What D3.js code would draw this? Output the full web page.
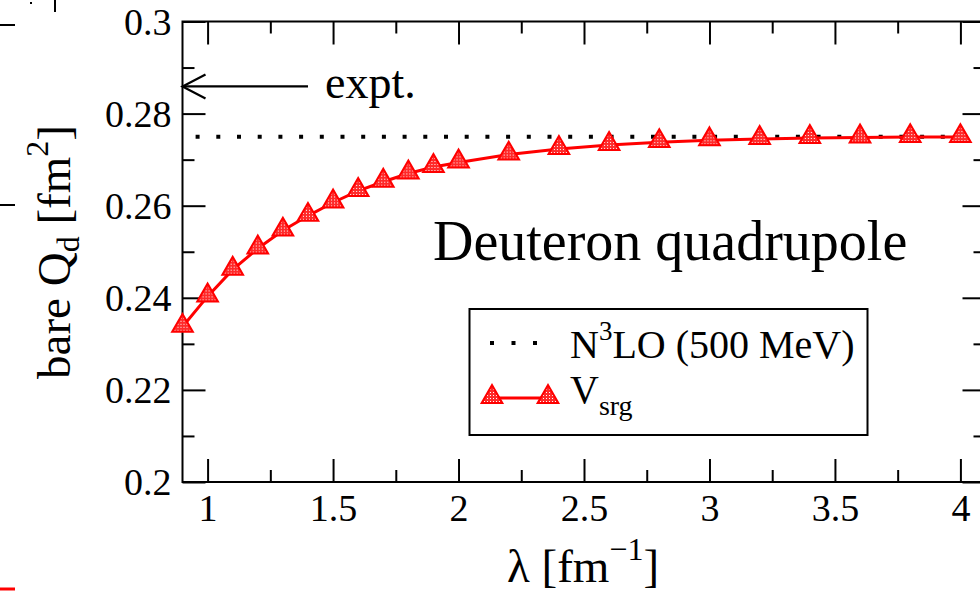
<!DOCTYPE html>
<html>
<head>
<meta charset="utf-8">
<script src="https://cdn.jsdelivr.net/npm/d3@7"></script>
<style>
  html, body { margin: 0; padding: 0; background: #fff; }
  svg { display: block; font-family: "Liberation Serif", "DejaVu Serif", serif; }
</style>
</head>
<body>
<div id="chart"></div>
<script>
// ---- data ----
const lambda = [0.9, 1.0, 1.1, 1.2, 1.3, 1.4, 1.5, 1.6, 1.7, 1.8, 1.9, 2.0,
                2.2, 2.4, 2.6, 2.8, 3.0, 3.2, 3.4, 3.6, 3.8, 4.0];
const qdSrg = [0.2337, 0.2403, 0.2461, 0.2507, 0.2546, 0.2578, 0.2607, 0.2632,
               0.2652, 0.2670, 0.2684, 0.2694, 0.2711, 0.2723, 0.2732, 0.2738,
               0.2742, 0.2745, 0.2747, 0.2748, 0.2749, 0.2749];
const qdN3lo = 0.275;
const qdExpt = 0.2859;

const xMajor = [1, 1.5, 2, 2.5, 3, 3.5, 4];
const xMinor = [1.25, 1.75, 2.25, 2.75, 3.25, 3.75];
const yMajor = [0.2, 0.22, 0.24, 0.26, 0.28, 0.3];
const yMinor = [0.21, 0.23, 0.25, 0.27, 0.29];

const width = 980, height = 593;
const svg = d3.select("#chart").append("svg")
  .attr("width", width).attr("height", height);

// dithered red fill used inside the triangles
const defs = svg.append("defs");
const pat = defs.append("pattern").attr("id", "hatch")
  .attr("patternUnits", "userSpaceOnUse").attr("width", 3).attr("height", 3);
pat.append("rect").attr("width", 3).attr("height", 3).attr("fill", "#ff2a2a");
pat.append("rect").attr("x", 1).attr("y", 1).attr("width", 1).attr("height", 1).attr("fill", "#ffffff");

// scales
const x = d3.scaleLinear().domain([0.9, 4.1]).range([182.5, 985.5]);
const y = d3.scaleLinear().domain([0.2, 0.3]).range([482, 21.5]);
const [x0, x1] = x.range();
const [yb, yt] = y.range();

// bits of the neighbouring panels cut by the crop
const frag = svg.append("g").attr("stroke", "#000").attr("stroke-width", 2);
frag.append("line").attr("x1", 0).attr("x2", 15).attr("y1", 25).attr("y2", 25);
frag.append("line").attr("x1", 0).attr("x2", 15).attr("y1", 205).attr("y2", 205);
frag.append("line").attr("x1", 55).attr("x2", 55).attr("y1", 0).attr("y2", 12);
frag.append("rect").attr("x", 30).attr("y", 2).attr("width", 2).attr("height", 2).attr("stroke", "none").attr("fill", "#000");
svg.append("line").attr("x1", 0).attr("x2", 15).attr("y1", 589).attr("y2", 589)
  .attr("stroke", "#ff0000").attr("stroke-width", 3);

// axes (ticks pointing inward on all four sides)
function styleAxis(g) {
  g.select(".domain").remove();
  g.selectAll(".tick line").attr("stroke", "#000").attr("stroke-width", 2);
  g.selectAll(".tick text").attr("fill", "#000").attr("font-size", 38)
    .attr("font-family", "Liberation Serif, serif");
}
const fmtY = d => d === 0.2 ? "0.2" : d === 0.3 ? "0.3" : d3.format(".2f")(d);

svg.append("g").attr("transform", `translate(${x0},0)`)
  .call(d3.axisLeft(y).tickValues(yMajor).tickFormat(fmtY).tickSizeInner(-23).tickSizeOuter(0).tickPadding(11))
  .call(styleAxis)
  .call(g => g.selectAll(".tick text").attr("dy", "0.34em"));
svg.append("g").attr("transform", `translate(${x0},0)`)
  .call(d3.axisLeft(y).tickValues(yMinor).tickFormat("").tickSizeInner(-12).tickSizeOuter(0))
  .call(styleAxis);
svg.append("g").attr("transform", `translate(${x1},0)`)
  .call(d3.axisRight(y).tickValues(yMajor).tickFormat("").tickSizeInner(-23).tickSizeOuter(0))
  .call(styleAxis);
svg.append("g").attr("transform", `translate(${x1},0)`)
  .call(d3.axisRight(y).tickValues(yMinor).tickFormat("").tickSizeInner(-12).tickSizeOuter(0))
  .call(styleAxis);

svg.append("g").attr("transform", `translate(0,${yb})`)
  .call(d3.axisBottom(x).tickValues(xMajor).tickFormat(d3.format("")).tickSizeInner(-23).tickSizeOuter(0).tickPadding(12))
  .call(styleAxis)
  .call(g => g.selectAll(".tick text").attr("dy", "0.71em"));
svg.append("g").attr("transform", `translate(0,${yb})`)
  .call(d3.axisBottom(x).tickValues(xMinor).tickFormat("").tickSizeInner(-12).tickSizeOuter(0))
  .call(styleAxis);
svg.append("g").attr("transform", `translate(0,${yt})`)
  .call(d3.axisTop(x).tickValues(xMajor).tickFormat("").tickSizeInner(-23).tickSizeOuter(0))
  .call(styleAxis);
svg.append("g").attr("transform", `translate(0,${yt})`)
  .call(d3.axisTop(x).tickValues(xMinor).tickFormat("").tickSizeInner(-12).tickSizeOuter(0))
  .call(styleAxis);

// frame
svg.append("rect").attr("x", x0).attr("y", yt)
  .attr("width", x1 - x0).attr("height", yb - yt)
  .attr("fill", "none").attr("stroke", "#000").attr("stroke-width", 2);

// N3LO dotted reference line
svg.append("line")
  .attr("x1", x(0.9)).attr("x2", x(4.1))
  .attr("y1", y(qdN3lo)).attr("y2", y(qdN3lo))
  .attr("stroke", "#000").attr("stroke-width", 4)
  .attr("stroke-dasharray", "4 16.7").attr("stroke-dashoffset", 7.6);

// Vsrg curve
const pts = lambda.map((l, i) => [l, qdSrg[i]]);
svg.append("path").datum(pts)
  .attr("fill", "none").attr("stroke", "#ff0000").attr("stroke-width", 3)
  .attr("d", d3.line().x(d => x(d[0])).y(d => y(d[1])));

const tri = d3.symbol(d3.symbolTriangle, 185);
svg.append("g").selectAll("path").data(pts).join("path")
  .attr("transform", d => `translate(${x(d[0])},${y(d[1]) - 1})`)
  .attr("d", tri)
  .attr("fill", "url(#hatch)").attr("stroke", "#ff0000").attr("stroke-width", 2);

// experimental value arrow
const ya = y(qdExpt);
const arrow = svg.append("g").attr("stroke", "#000").attr("stroke-width", 2.2).attr("fill", "none");
arrow.append("line").attr("x1", x0).attr("x2", 308).attr("y1", ya).attr("y2", ya);
arrow.append("path").attr("d", `M${x0 + 23},${ya - 12}L${x0},${ya}L${x0 + 23},${ya + 12}`);
svg.append("text").attr("x", 325).attr("y", ya + 12)
  .attr("font-size", 46).text("expt.");

// panel title
svg.append("text").attr("x", 433).attr("y", 260)
  .attr("font-size", 56).text("Deuteron quadrupole");

// axis titles
const xt = svg.append("text").attr("x", (x0 + x1) / 2 - 1).attr("y", 582)
  .attr("text-anchor", "middle").attr("font-size", 47);
xt.append("tspan").text("λ [fm");
xt.append("tspan").attr("dy", -22).attr("font-size", 32).text("−1");
xt.append("tspan").attr("dy", 22).text("]");

const ytl = svg.append("text")
  .attr("transform", "translate(70,252) rotate(-90)")
  .attr("text-anchor", "middle").attr("font-size", 47);
ytl.append("tspan").text("bare Q");
ytl.append("tspan").attr("dy", 9).attr("font-size", 32).text("d");
ytl.append("tspan").attr("dy", -9).text(" [fm");
ytl.append("tspan").attr("dy", -22).attr("font-size", 32).text("2");
ytl.append("tspan").attr("dy", 22).text("]");

// legend
const lg = svg.append("g");
lg.append("rect").attr("x", 469.5).attr("y", 309).attr("width", 398).attr("height", 126)
  .attr("fill", "#fff").attr("stroke", "#000").attr("stroke-width", 2);
lg.append("line").attr("x1", 490).attr("x2", 540).attr("y1", 343).attr("y2", 343)
  .attr("stroke", "#000").attr("stroke-width", 4).attr("stroke-dasharray", "4 17.5");
const t1 = lg.append("text").attr("x", 570).attr("y", 358).attr("font-size", 40);
t1.append("tspan").text("N");
t1.append("tspan").attr("dy", -18).attr("font-size", 27).text("3");
t1.append("tspan").attr("dy", 18).text("LO (500 MeV)");

lg.append("line").attr("x1", 492).attr("x2", 548).attr("y1", 398).attr("y2", 398)
  .attr("stroke", "#ff0000").attr("stroke-width", 3);
lg.selectAll("path.lm").data([492, 548]).join("path").attr("class", "lm")
  .attr("transform", d => `translate(${d},397)`)
  .attr("d", tri)
  .attr("fill", "url(#hatch)").attr("stroke", "#ff0000").attr("stroke-width", 2);
const t2 = lg.append("text").attr("x", 570).attr("y", 403).attr("font-size", 40);
t2.append("tspan").text("V");
t2.append("tspan").attr("dy", 12).attr("font-size", 28).text("srg");
</script>
</body>
</html>
